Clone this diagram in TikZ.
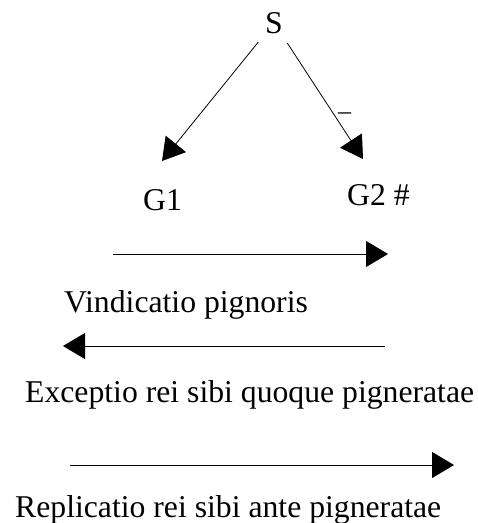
\documentclass[tikz,border=0pt]{standalone}
\usepackage{fontspec}
\setmainfont{Liberation Serif}
\usetikzlibrary{arrows.meta}
\tikzset{
  pfeil/.style={-{Triangle[length=22pt,width=26pt]},line width=0.8pt},
  wort/.style={inner sep=0pt,font=\fontsize{31.7}{38}\selectfont},
}
\begin{document}
\begin{tikzpicture}[x=1pt,y=-1pt]
\useasboundingbox (0,0) rectangle (478,523);
% the three persons
\node[wort,anchor=base] (s) at (274,33) {S};
\node[wort,anchor=base west] (g1) at (143,210) {G1};
\node[wort,anchor=base west] (g2) at (347,205) {G2 \#};
\coordinate (g1tip) at (162,161);
\coordinate (g2tip) at (363,159);
\draw[pfeil,shorten <=11pt] (s) -- (g1tip);
\draw[pfeil,shorten <=11.5pt] (s) -- (g2tip);
\node[inner sep=0pt,anchor=base,font=\fontsize{26}{30}\selectfont] (minus) at (344.5,119.5) {–};
% the actions, edit here for the arrows
\coordinate (a1) at (113,254); \coordinate (b1) at (388,254);
\coordinate (a2) at (385,346); \coordinate (b2) at (63,346);
\coordinate (a3) at (70,465);  \coordinate (b3) at (454,465);
\foreach \i in {1,2,3}
\draw[pfeil] (a\i) -- (b\i);
\node[wort,anchor=base west] (vind) at (64,312) {Vindicatio pignoris};
\node[wort,anchor=base west] (exc) at (25,402) {Exceptio rei sibi quoque pigneratae};
\node[wort,anchor=base west] (repl) at (15,517) {Replicatio rei sibi ante pigneratae};
\end{tikzpicture}
\end{document}
